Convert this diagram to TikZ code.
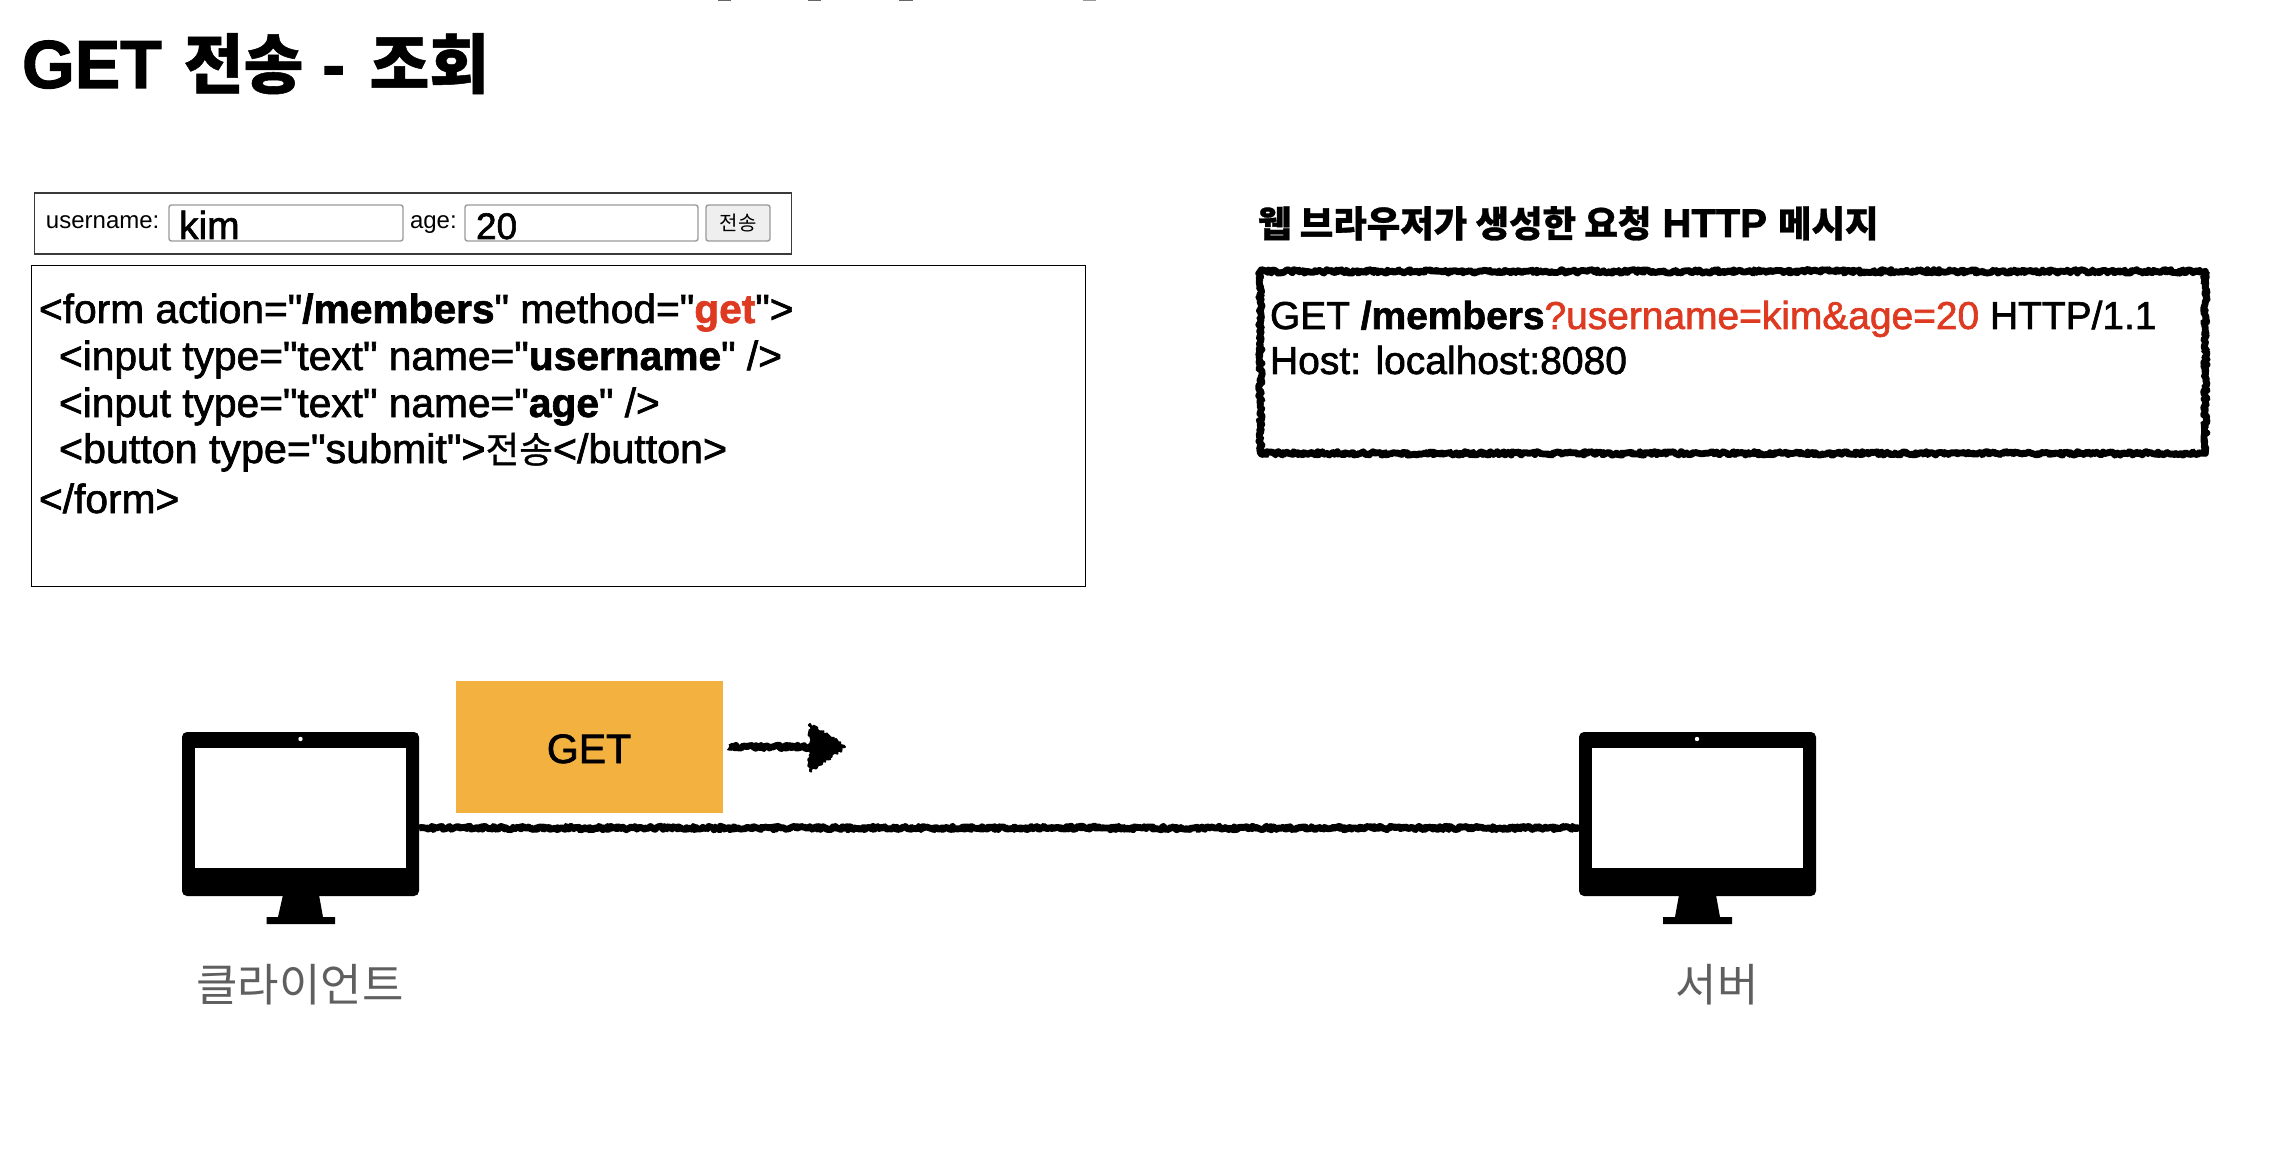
\documentclass[tikz,border=0pt]{standalone}
\usepackage{fontspec}
\usetikzlibrary{decorations.pathmorphing,calc}
\newfontfamily\libplain{Liberation Sans}
\newfontfamily\libmed{Liberation Sans}[FakeBold=1.6]
\newfontfamily\krfont{Noto Sans CJK KR}
\newfontfamily\krmed{Noto Sans CJK KR}[FakeBold=0.8]
\newcommand{\fs}[1]{\fontsize{\fpeval{#1*0.5}pt}{\fpeval{#1*0.6}pt}\selectfont}
\newcommand{\KR}[1]{{\krmed #1}}
\definecolor{redtxt}{HTML}{DE3A22}
\definecolor{orangebox}{HTML}{F3B13F}
\definecolor{graytxt}{HTML}{5F5F5F}
\definecolor{inputgray}{HTML}{9A9A9A}
\definecolor{btnfill}{HTML}{EFEFEF}
\definecolor{framegray}{HTML}{3A3A3A}
\tikzset{
  txt/.style={inner sep=0pt,outer sep=0pt,anchor=base west,text=black,font=\libmed},
  plaintxt/.style={inner sep=0pt,outer sep=0pt,anchor=base west,text=black,font=\libplain},
  rough/.style={line width=3.4pt,draw=black,line join=round,decorate,decoration={random steps,segment length=0.8pt,amplitude=0.9pt}},
  inputbox/.style={draw=inputgray,line width=0.7pt,rounded corners=1.2pt,fill=white,minimum height=18pt,inner sep=0pt,outer sep=0pt},
  monitor/.style={fill=black,rounded corners=2.5pt,inner sep=0pt,outer sep=0pt,minimum width=118.5pt,minimum height=82pt},
  screen/.style={fill=white,inner sep=0pt,outer sep=0pt,minimum width=105.5pt,minimum height=60pt},
  lbl/.style={inner sep=0pt,outer sep=0pt,text=graytxt,font=\krfont},
  topmark/.style={fill=black!60,draw=none}
}
\begin{document}
\begin{tikzpicture}[x=0.5pt,y=-0.5pt]
\useasboundingbox[fill=white] (0,0) rectangle (2272,1166);
\pgfmathsetseed{42}
% cropped marks on top edge
\fill[topmark] (718,0) rectangle (731,1.5);
\fill[topmark] (808,0) rectangle (821,1.5);
\fill[topmark] (899,0) rectangle (913,1.5);
\fill[black!40] (1083,0) rectangle (1096,1.5);
% title
\node[txt] (title) at (22,88) {\bfseries\fs{68}GET\hspace{11pt}\fs{65}\KR{전송}\hspace{9.5pt}\fs{68}-\hspace{12.3pt}\fs{65}\KR{조회}};
% form preview
\node[draw=framegray,line width=0.75pt,inner sep=0pt,minimum width=378.5pt,minimum height=30.5pt,anchor=north west] (preview) at (33.5,192.5) {};
\node[plaintxt] (ulabel) at (46,229) {\fs{24}username:};
\node[inputbox,minimum width=117pt,anchor=north west] (uinput) at (169,205) {};
\node[txt] (uval) at (179,239) {\fs{39}kim};
\node[plaintxt] (alabel) at (410,229) {\fs{24}age:};
\node[inputbox,minimum width=116.5pt,anchor=north west] (ainput) at (465,205) {};
\node[txt] (aval) at (476,239) {\fs{37}20};
\node[inputbox,fill=btnfill,minimum width=32pt,anchor=north west] (btn) at (706,205) {};
\node[inner sep=0pt,font=\krfont] (btntxt) at (btn.center) {\fs{20}전송};
% code box
\node[draw=black,line width=0.55pt,inner sep=0pt,minimum width=527pt,minimum height=160.5pt,anchor=north west] (code) at (31,265) {};
\node[txt] (c1) at (39,323) {\fs{40.7}<form action="\textbf{/members}" method="\textcolor{redtxt}{\textbf{get}}">};
\node[txt] (c2) at (59,370) {\fs{40.7}<input type="text" name="\textbf{username}" />};
\node[txt] (c3) at (59,417) {\fs{40.7}<input type="text" name="\textbf{age}" />};
\node[txt] (c4) at (59,463) {\fs{41.2}<button type="submit">\KR{\fs{36.6}전송}</button>};
\node[txt] (c5) at (39,513) {\fs{40.7}</form>};
% http message
\node[txt] (head) at (1258,237) {\bfseries\fs{40}\KR{\fs{36.4}웹 브라우저가 생성한 요청} HTTP \KR{\fs{36.4}메시지}};
\node[rough,inner sep=0pt,minimum width=472.5pt,minimum height=91pt,anchor=north west] (msg) at (1257,268) {};
\node[txt] (m1) at (1270,329) {\fs{38.9}GET \textbf{/members}\textcolor{redtxt}{?username=kim\&age=20} HTTP/1.1};
\node[txt] (m2) at (1270,374) {\fs{39}Host: localhost:8080};
% GET box and arrow
\node[fill=orangebox,inner sep=0pt,outer sep=0pt,minimum width=133.5pt,minimum height=66pt,anchor=north west] (get) at (456,681) {};
\node[inner sep=0pt,anchor=base,font=\libmed] (gettxt) at (589,763) {\fs{41}GET};
\coordinate (arrowend) at (815,747);
\draw[rough] ([xshift=3pt]get.east) -- (arrowend);
\draw[rough,line width=1pt,fill=black] (810,724) -- (845,747) -- (810,771) -- cycle;
% monitors
\node[monitor,anchor=north west] (client) at (182,732) {};
\node[screen,anchor=north west] (cscreen) at (195,748) {};
\fill[white] (300.5,739) circle (1.1pt);
\fill[black] (283,895) -- (319,895) -- (323,917) -- (335,917) -- (335,924) -- (266.5,924) -- (266.5,917) -- (278,917) -- cycle;
\node[monitor,anchor=north west] (server) at (1579,732) {};
\node[screen,anchor=north west] (sscreen) at (1592,748) {};
\fill[white] (1697,739) circle (1.1pt);
\fill[black] (1679,895) -- (1716,895) -- (1720,917) -- (1732,917) -- (1732,924) -- (1663,924) -- (1663,917) -- (1675,917) -- cycle;
% connector
\draw[rough] ([yshift=-7pt]client.east) -- ([yshift=-7pt]server.west);
% labels
\node[lbl] (clabel) at (300,985) {\fs{45}클라이언트};
\node[lbl] (slabel) at (1717,985) {\fs{45}서버};
\end{tikzpicture}
\end{document}
